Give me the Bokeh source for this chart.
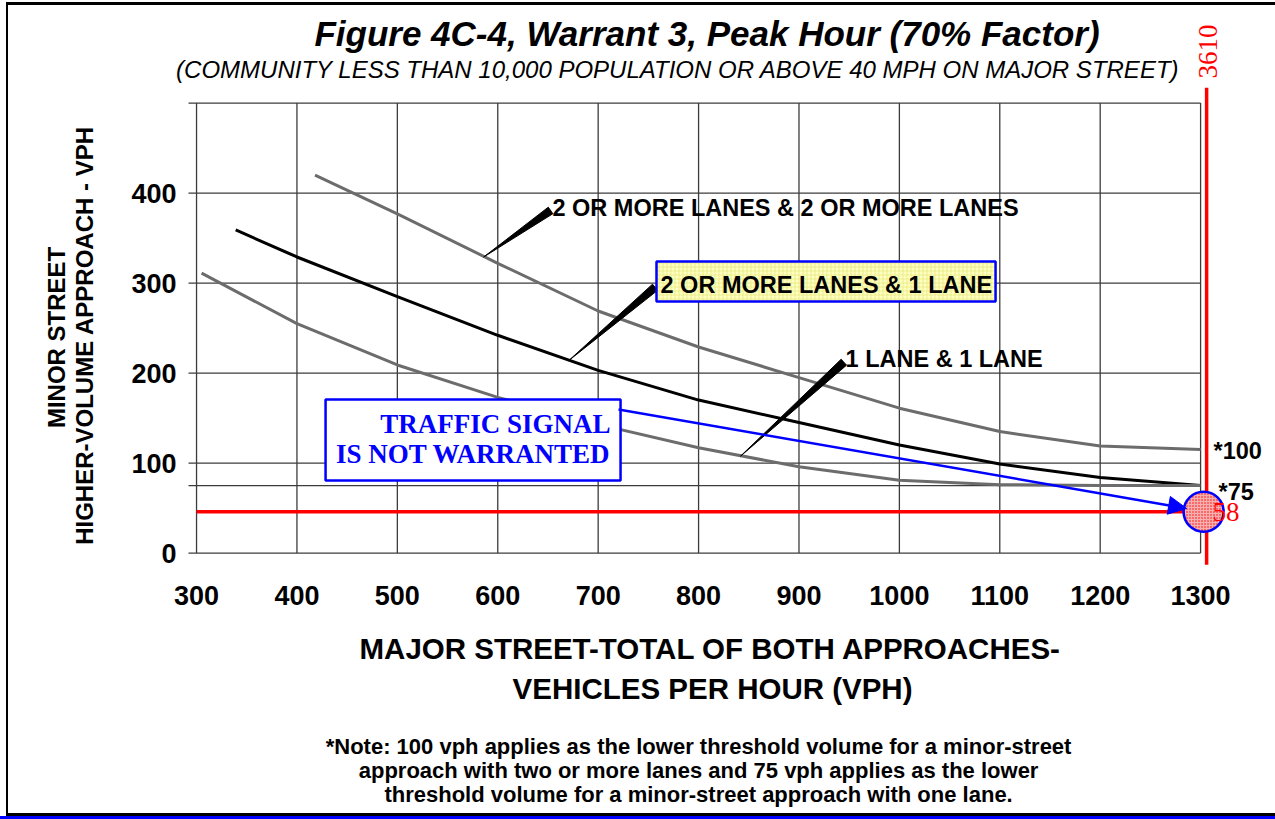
import math
from bokeh.plotting import figure
from bokeh.models import Range1d, FixedTicker, Label, Arrow, NormalHead
from bokeh.embed import file_html
from bokeh.resources import INLINE

# ---------------- data ----------------
major_ticks = [300, 400, 500, 600, 700, 800, 900, 1000, 1100, 1200, 1300]
minor_ticks = [0, 100, 200, 300, 400]
grid_y = [0, 75, 100, 200, 300, 400, 500]

# 2 or more lanes & 2 or more lanes
two_two_x = [418, 500, 600, 700, 800, 900, 1000, 1100, 1200, 1300]
two_two_y = [420, 377, 322, 269, 229, 195, 161, 135, 119, 115]
# 2 or more lanes & 1 lane
two_one_x = [339, 400, 500, 600, 700, 800, 900, 1000, 1100, 1200, 1300]
two_one_y = [359, 329, 285, 242, 203, 170, 145, 120, 99, 84, 75]
# 1 lane & 1 lane
one_one_x = [305, 400, 500, 600, 700, 800, 900, 1000, 1100, 1200, 1300]
one_one_y = [311, 255, 209, 173, 143, 117, 96, 81, 76, 75, 75]

# observed point (drawn clamped at the chart edge)
point_major_label = "3610"
point_minor_label = "58"
point_x = [1303]
point_y = [46]

note_lines = [
    "*Note: 100 vph applies as the lower threshold volume for a minor-street",
    "approach with two or more lanes and 75 vph applies as the lower",
    "threshold volume for a minor-street approach with one lane.",
]

SANS = "Liberation Sans"
SERIF = "Liberation Serif"

p = figure(width=1275, height=816,
           x_range=Range1d(104.75, 1374.6), y_range=Range1d(-292.7, 614.0),
           output_backend="svg", toolbar_location=None,
           min_border_left=0, min_border_right=0,
           min_border_top=0, min_border_bottom=0)
p.outline_line_color = None
p.grid.visible = False
p.background_fill_color = None
p.border_fill_color = None
p.styles = {
    "background": ("linear-gradient(#000,#000) 6px 2px/2px 814px no-repeat, "
                   "linear-gradient(#000,#000) 6px 2px/1269px 3px no-repeat, "
                   "linear-gradient(#000,#000) 6px 813px/1269px 3px no-repeat, #ffffff"),
    "box-shadow": "0 3px 0 0 #0000ff",
}

for ax in (p.xaxis[0], p.yaxis[0]):
    ax.axis_line_color = None
    ax.major_tick_line_color = None
    ax.minor_tick_line_color = None
    ax.major_tick_out = 0
    ax.major_tick_in = 0
    ax.major_label_text_font = SANS
    ax.major_label_text_font_style = "bold"
    ax.major_label_text_font_size = "27px"
    ax.major_label_text_color = "black"
p.xaxis.ticker = FixedTicker(ticks=major_ticks)
p.yaxis.ticker = FixedTicker(ticks=minor_ticks)
p.xaxis.fixed_location = -16
p.yaxis.fixed_location = 292
p.xaxis.major_label_standoff = 19
p.yaxis.major_label_standoff = 12

# grid
p.segment(x0=major_ticks, y0=[0] * len(major_ticks), x1=major_ticks, y1=[500] * len(major_ticks),
          line_color="#3c3c3c", line_width=1.3)
p.segment(x0=[292] * len(grid_y), y0=grid_y, x1=[1300] * len(grid_y), y1=grid_y,
          line_color="#3c3c3c", line_width=1.3)

# curves
p.line(two_two_x, two_two_y, line_color="#6c6c6c", line_width=3, line_join="round")
p.line(two_one_x, two_one_y, line_color="black", line_width=3, line_join="round")
p.line(one_one_x, one_one_y, line_color="#6c6c6c", line_width=3, line_join="round")

SX, SY = 1.004, 0.9


def wedge(x0, y0, x1, y1, w):
    dx, dy = (x1 - x0) * SX, (y1 - y0) * SY
    L = math.hypot(dx, dy)
    nx, ny = -dy / L, dx / L
    ox, oy = nx * w / 2 / SX, ny * w / 2 / SY
    return [x0, x1 + ox, x1 - ox], [y0, y1 + oy, y1 - oy]


for (a, b, c, d) in [(586, 329, 652.6, 380.7), (670.8, 214, 756.7, 295.4), (841.8, 107.7, 944.7, 212.1)]:
    xs, ys = wedge(a, b, c, d, 8)
    p.patch(xs, ys, fill_color="black", line_color="black", line_width=1)

# labelled box for "2 OR MORE LANES & 1 LANE"
p.quad(left=[758.1], right=[1095.8], top=[324], bottom=[279.6], fill_color="#ffffc0",
       hatch_pattern="cross", hatch_color="#e0e070", hatch_scale=4, hatch_weight=0.6,
       line_color="blue", line_width=2.5)


def lab(x, y, t, size, color="black", font=SANS, style="bold", align="left", angle=0.0):
    p.add_layout(Label(x=x, y=y, text=t, text_font=font, text_font_size=size,
                       text_font_style=style, text_color=color, text_align=align,
                       text_baseline="middle", angle=angle))


lab(654.5, 382.9, "2 OR MORE LANES & 2 OR MORE LANES", "23.5px")
lab(762.1, 298.4, "2 OR MORE LANES & 1 LANE", "23.5px")
lab(946.4, 215.1, "1 LANE & 1 LANE", "23.5px")
lab(1312.9, 112.9, "*100", "23.5px")
lab(1317.9, 68.4, "*75", "23.5px")

# red reference lines
p.line([300, 1306], [point_y[0], point_y[0]], line_color="red", line_width=3.5)
p.line([1306, 1306], [-13, 517], line_color="red", line_width=3.5)

# "not warranted" box
p.quad(left=[428.5], right=[722.3], top=[170.7], bottom=[80.7], fill_color="white",
       line_color="blue", line_width=2.5)
lab(712.3, 143.9, "TRAFFIC SIGNAL", "27px", color="blue", font=SERIF, align="right")
lab(712.3, 109.6, "IS NOT WARRANTED", "27px", color="blue", font=SERIF, align="right")
p.add_layout(Arrow(end=NormalHead(size=18, fill_color="blue", line_color="blue"),
                   x_start=720.3, y_start=159.6, x_end=1286, y_end=49.6,
                   line_color="blue", line_width=2.5))

p.scatter(x=point_x, y=point_y, size=40, marker="circle", fill_color="#f6b0b0",
          hatch_pattern="dot", hatch_color="red", hatch_scale=3,
          line_color="blue", line_width=2.5)
lab(1311.9, 46.2, point_minor_label, "27px", color="red", font=SERIF, style="normal")

# titles
lab(808.4, 577.3, "Figure 4C-4, Warrant 3, Peak Hour (70% Factor)", "35px", style="bold italic", align="center")
lab(779.5, 537.3, "(COMMUNITY LESS THAN 10,000 POPULATION OR ABOVE 40 MPH ON MAJOR STREET)", "24px",
    style="italic", align="center")
lab(1306.9, 557.3, point_major_label, "27px", color="red", font=SERIF, style="normal", align="center",
    angle=math.pi / 2)

# axis titles
lab(160.5, 239.6, "MINOR STREET", "24px", align="center", angle=math.pi / 2)
lab(188.4, 241.8, "HIGHER-VOLUME APPROACH - VPH", "24px", align="center", angle=math.pi / 2)
lab(811.9, -106.2, "MAJOR STREET-TOTAL OF BOTH APPROACHES-", "29.5px", align="center")
lab(813.9, -150.7, "VEHICLES PER HOUR (VPH)", "29.5px", align="center")

# note
for t, yy in zip(note_lines, [-214.9, -241.6, -268.2]):
    lab(800.0, yy, t, "22px", align="center")

open("out.html", "w").write(file_html(p, INLINE))
